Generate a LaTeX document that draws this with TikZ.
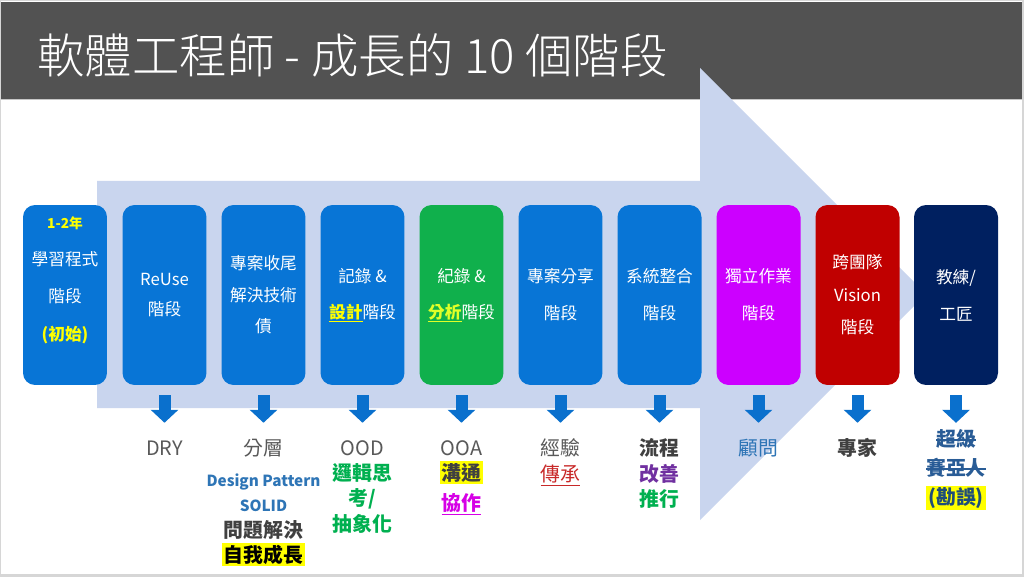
\documentclass[tikz,border=0pt]{standalone}
\usepackage{fontspec}
\setmainfont{Noto Sans CJK TC}
\IfFontExistsTF{Noto Sans CJK TC Light}{\newfontfamily\titlefont{Noto Sans CJK TC Light}}{\newfontfamily\titlefont{Noto Sans CJK TC}}
\usetikzlibrary{arrows.meta}

\definecolor{frameGray}{RGB}{214,214,214}
\definecolor{barGray}{RGB}{82,82,82}
\definecolor{bigArrow}{RGB}{201,213,238}
\definecolor{stageBlue}{RGB}{8,117,214}
\definecolor{stageGreen}{RGB}{16,176,76}
\definecolor{stageMagenta}{RGB}{204,0,255}
\definecolor{stageRed}{RGB}{192,0,0}
\definecolor{stageNavy}{RGB}{0,32,96}
\definecolor{arrowDark}{RGB}{10,112,205}
\definecolor{boxYellow}{RGB}{255,255,0}
\definecolor{boxLime}{RGB}{225,255,40}
\definecolor{headGray}{RGB}{89,89,89}
\definecolor{textDark}{RGB}{64,64,64}
\definecolor{textBlue}{RGB}{46,117,182}
\definecolor{textGreen}{RGB}{0,176,80}
\definecolor{textPurple}{RGB}{112,48,160}
\definecolor{textRed}{RGB}{200,40,40}
\definecolor{textMagenta}{RGB}{214,0,230}
\definecolor{textNavy}{RGB}{41,92,150}
\definecolor{textTeal}{RGB}{31,78,121}
\definecolor{hiYellow}{RGB}{255,255,0}

\newcommand{\hilite}[1]{{\fboxsep=1pt\colorbox{hiYellow}{#1}}}
\newcommand{\ulined}[1]{{\setbox0\hbox{#1}\rlap{\rule[-0.22em]{\wd0}{0.7pt}}\box0}}
\newcommand{\struck}[1]{{\setbox0\hbox{#1}\rlap{\rule[0.3em]{\wd0}{0.9pt}}\box0}}

\begin{document}
\begin{tikzpicture}[x=0.02cm, y=-0.02cm,
		stage/.style={rectangle, rounded corners=0.24cm, minimum width=1.68cm, minimum height=3.6cm, inner sep=0pt, align=center, text=white, font=\fontsize{9.5}{21}\selectfont},
		boxtext/.style={align=center, inner sep=0pt, text=white, font=\fontsize{9.5}{21.2}\selectfont},
		titletext/.style={anchor=west, inner sep=0pt, text=white, font=\titlefont\fontsize{27}{32}\selectfont},
		headtext/.style={anchor=base, inner sep=0pt, text height=9.9pt, text=headGray, font=\fontsize{11.3}{14.5}\selectfont},
		detailtext/.style={anchor=north, align=center, inner sep=0pt, font=\fontsize{11.3}{14.5}\selectfont\bfseries},
		downarrow/.style={draw=arrowDark, line width=0.24cm, -{Triangle[width=0.54cm, length=0.26cm]}, shorten <=0.2cm, shorten >=0.29cm}]
				% slide and title bar
				\fill[frameGray] (0, 0) rectangle (1024, 577);
				\fill[white] (1, 1) rectangle (1022, 574);
				\fill[barGray] (1, 2) rectangle (1022, 99);
				\draw[gray!45, line width=0.5pt] (1, 99.5) -- (1022, 99.5);
				\fill[bigArrow] (97, 181) -- (700, 181) -- (700, 68) -- (926, 294) -- (700, 520) -- (700, 408) -- (97, 408) -- cycle;
				\node[titletext] (title)at(37, 55) {軟體工程師 - 成長的 10 個階段};
				% stages
				\node[stage, fill=stageBlue] (S1)at(65, 295) {};
				\node[boxtext] (T1)at(65, 280) {{\fontsize{7.8}{21.2}\selectfont\bfseries\color{boxYellow}1-2年}\\學習程式\\階段\\{\bfseries\color{boxYellow}(初始)}};
				\node[stage, fill=stageBlue, font=\fontsize{9.5}{17}\selectfont] (S2)at(164.5, 295) {ReUse\\階段};
				\node[stage, fill=stageBlue, font=\fontsize{9.5}{17.9}\selectfont] (S3)at(263.5, 295) {專案收尾\\解決技術\\債};
				\node[stage, fill=stageBlue, font=\fontsize{9.5}{20.4}\selectfont] (S4)at(362.5, 295) {記錄 \&\\{\bfseries\color{boxYellow}\ulined{設計}}階段};
				\node[stage, fill=stageGreen, font=\fontsize{9.5}{20.4}\selectfont] (S5)at(461.5, 295) {紀錄 \&\\{\bfseries\color{boxLime}\ulined{分析}}階段};
				\node[stage, fill=stageBlue] (S6)at(560.5, 295) {專案分享\\階段};
				\node[stage, fill=stageBlue] (S7)at(659.5, 295) {系統整合\\階段};
				\node[stage, fill=stageMagenta] (S8)at(758.5, 295) {獨立作業\\階段};
				\node[stage, fill=stageRed, font=\fontsize{9.5}{18.4}\selectfont] (S9)at(857.5, 295) {跨團隊\\Vision\\階段};
				\node[stage, fill=stageNavy] (S10)at(956, 295) {教練/\\工匠};
				% what each stage gives
				\node[headtext] (H2)at(164.5, 455) {DRY};
				\node[headtext] (H3)at(263.5, 455) {分層};
				\node[headtext] (H4)at(362.5, 455) {OOD};
				\node[headtext] (H5)at(461.5, 455) {OOA};
				\node[headtext] (H6)at(560.5, 455) {經驗};
				\node[headtext, text=textDark, font=\fontsize{11.3}{14.5}\selectfont\bfseries] (H7)at(659.5, 455) {流程};
				\node[headtext, text=textBlue] (H8)at(758.5, 455) {顧問};
				\node[headtext, text=textDark, font=\fontsize{11.3}{14.5}\selectfont\bfseries] (H9)at(857.5, 455) {專家};
				\node[headtext, text=textNavy, font=\fontsize{11.3}{14.5}\selectfont\bfseries] (H10)at(956, 446.6) {\struck{超級}};
				\node[detailtext] (D3)at(263.5, 473) {{\fontsize{8.7}{14.5}\selectfont\color{textBlue}Design Pattern}\\{\fontsize{8.7}{14.5}\selectfont\color{textBlue}SOLID}\\{\color{textDark}問題解決}\\\hilite{自我成長}};
				\node[detailtext, text=textGreen] (D4)at(362.5, 463) {邏輯思\\考/\\抽象化};
				\node[detailtext] (D5)at(461.5, 461) {\hilite{\color{textDark}溝通}\\[3pt]{\color{textMagenta}\ulined{協作}}};
				\node[detailtext, text=textRed, font=\fontsize{11.3}{14.5}\selectfont] (D6)at(560.5, 465) {\ulined{傳承}};
				\node[detailtext] (D7)at(659.5, 464) {{\color{textPurple}改善}\\{\color{textGreen}推行}};
				\node[detailtext] (D10)at(956, 458) {{\color{textNavy}\struck{賽亞人}}\\[2pt]\hilite{\color{textTeal}(勘誤)}};
				\draw[downarrow] (S2.south) -- (H2.north);
				\draw[downarrow] (S3.south) -- (H3.north);
				\draw[downarrow] (S4.south) -- (H4.north);
				\draw[downarrow] (S5.south) -- (H5.north);
				\draw[downarrow] (S6.south) -- (H6.north);
				\draw[downarrow] (S7.south) -- (H7.north);
				\draw[downarrow] (S8.south) -- (H8.north);
				\draw[downarrow] (S9.south) -- (H9.north);
				\draw[downarrow, shorten >=0.12cm] (S10.south) -- (H10.north);
			\end{tikzpicture}
\end{document}
